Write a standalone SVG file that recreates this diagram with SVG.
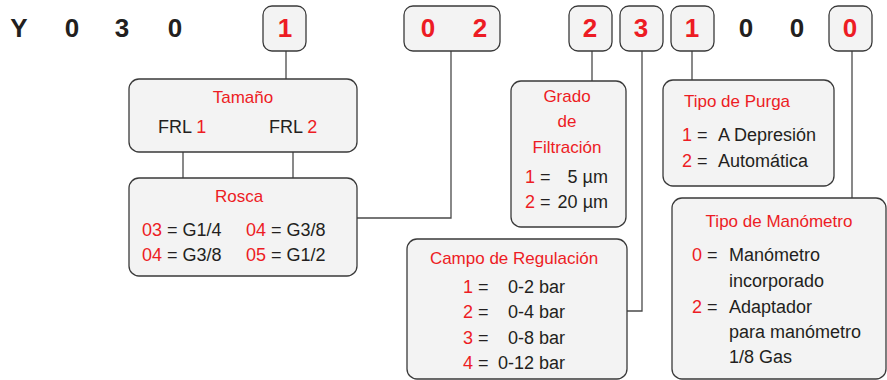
<svg xmlns="http://www.w3.org/2000/svg" width="887" height="380" viewBox="0 0 887 380">
<style>
.box{fill:#f3f3f3;stroke:#3a3a3a;stroke-width:1.3}
.con{fill:none;stroke:#4a4a4a;stroke-width:1.3}
.code{font-family:"Liberation Sans",Arial,sans-serif;font-weight:bold;font-size:26px;text-anchor:middle}
.k{fill:#231f20}
.r{fill:#ed1c24}
.t{font-family:"Liberation Sans",Arial,sans-serif;font-size:17px;fill:#ed1c24;text-anchor:middle}
.b{font-family:"Liberation Sans",Arial,sans-serif;font-size:18px;fill:#231f20}
.e{text-anchor:end}
</style>
<rect width="887" height="380" fill="#ffffff"/>
<g id="connectors">
<line class="con" x1="286" y1="51" x2="286" y2="79"/>
<line class="con" x1="183" y1="152" x2="183" y2="178"/>
<line class="con" x1="293" y1="152" x2="293" y2="178"/>
<polyline class="con" points="357,218 451,218 451,51"/>
<line class="con" x1="592" y1="51" x2="592" y2="81"/>
<polyline class="con" points="642,51 642,311 627,311"/>
<line class="con" x1="692" y1="51" x2="692" y2="80"/>
<line class="con" x1="852" y1="51" x2="852" y2="198"/>
</g>
<g id="code">
<text class="code k" x="19" y="37">Y</text>
<text class="code k" x="72" y="37">0</text>
<text class="code k" x="122" y="37">3</text>
<text class="code k" x="175" y="37">0</text>
<text class="code k" x="746" y="37">0</text>
<text class="code k" x="797" y="37">0</text>
</g>
<g id="c1"><rect class="box" x="263" y="6" width="43" height="45" rx="9"/><text class="code r" x="285" y="37">1</text></g>
<g id="c02"><rect class="box" x="404" y="6" width="96" height="45" rx="9"/><text class="code r" x="428" y="37">0</text><text class="code r" x="480" y="37">2</text></g>
<g id="c2"><rect class="box" x="569" y="6" width="43" height="45" rx="9"/><text class="code r" x="590" y="37">2</text></g>
<g id="c3"><rect class="box" x="620" y="6" width="43" height="45" rx="9"/><text class="code r" x="641" y="37">3</text></g>
<g id="c1b"><rect class="box" x="671" y="6" width="43" height="45" rx="9"/><text class="code r" x="692" y="37">1</text></g>
<g id="c0"><rect class="box" x="829" y="6" width="43" height="45" rx="9"/><text class="code r" x="850" y="37">0</text></g>
<g id="tamano">
<rect class="box" x="129" y="79" width="228" height="73" rx="10"/>
<text class="t" x="243" y="103">Tamaño</text>
<text class="b" x="158" y="133">FRL <tspan class="r">1</tspan></text>
<text class="b" x="269" y="133">FRL <tspan class="r">2</tspan></text>
</g>
<g id="rosca">
<rect class="box" x="129" y="178" width="228" height="98" rx="10"/>
<text class="t" x="239" y="202">Rosca</text>
<text class="b" x="142" y="236"><tspan class="r">03</tspan> = G1/4</text>
<text class="b" x="246" y="236"><tspan class="r">04</tspan> = G3/8</text>
<text class="b" x="142" y="261"><tspan class="r">04</tspan> = G3/8</text>
<text class="b" x="246" y="261"><tspan class="r">05</tspan> = G1/2</text>
</g>
<g id="grado">
<rect class="box" x="511" y="81" width="115" height="146" rx="10"/>
<text class="t" x="567" y="102">Grado</text>
<text class="t" x="567" y="127">de</text>
<text class="t" x="567" y="153">Filtración</text>
<text class="b" x="525" y="183"><tspan class="r">1</tspan> =</text>
<text class="b e" x="608" y="183">5 µm</text>
<text class="b" x="525" y="208"><tspan class="r">2</tspan> =</text>
<text class="b e" x="608" y="208">20 µm</text>
</g>
<g id="campo">
<rect class="box" x="407" y="239" width="220" height="140" rx="10"/>
<text class="t" x="514" y="264">Campo de Regulación</text>
<text class="b" x="463" y="293"><tspan class="r">1</tspan> =</text>
<text class="b e" x="565" y="293">0-2 bar</text>
<text class="b" x="463" y="318"><tspan class="r">2</tspan> =</text>
<text class="b e" x="565" y="318">0-4 bar</text>
<text class="b" x="463" y="344"><tspan class="r">3</tspan> =</text>
<text class="b e" x="565" y="344">0-8 bar</text>
<text class="b" x="463" y="369"><tspan class="r">4</tspan> =</text>
<text class="b e" x="565" y="369">0-12 bar</text>
</g>
<g id="purga">
<rect class="box" x="663" y="80" width="171" height="106" rx="10"/>
<text class="t" x="737" y="107">Tipo de Purga</text>
<text class="b" x="682" y="141"><tspan class="r">1</tspan> =</text>
<text class="b" x="718" y="141">A Depresión</text>
<text class="b" x="682" y="167"><tspan class="r">2</tspan> =</text>
<text class="b" x="718" y="167">Automática</text>
</g>
<g id="manometro">
<rect class="box" x="672" y="198" width="214" height="181" rx="10"/>
<text class="t" x="779" y="227">Tipo de Manómetro</text>
<text class="b" x="692" y="261"><tspan class="r">0</tspan> =</text>
<text class="b" x="729" y="261">Manómetro</text>
<text class="b" x="729" y="287">incorporado</text>
<text class="b" x="692" y="313"><tspan class="r">2</tspan> =</text>
<text class="b" x="729" y="313">Adaptador</text>
<text class="b" x="729" y="338">para manómetro</text>
<text class="b" x="729" y="363">1/8 Gas</text>
</g>
</svg>
